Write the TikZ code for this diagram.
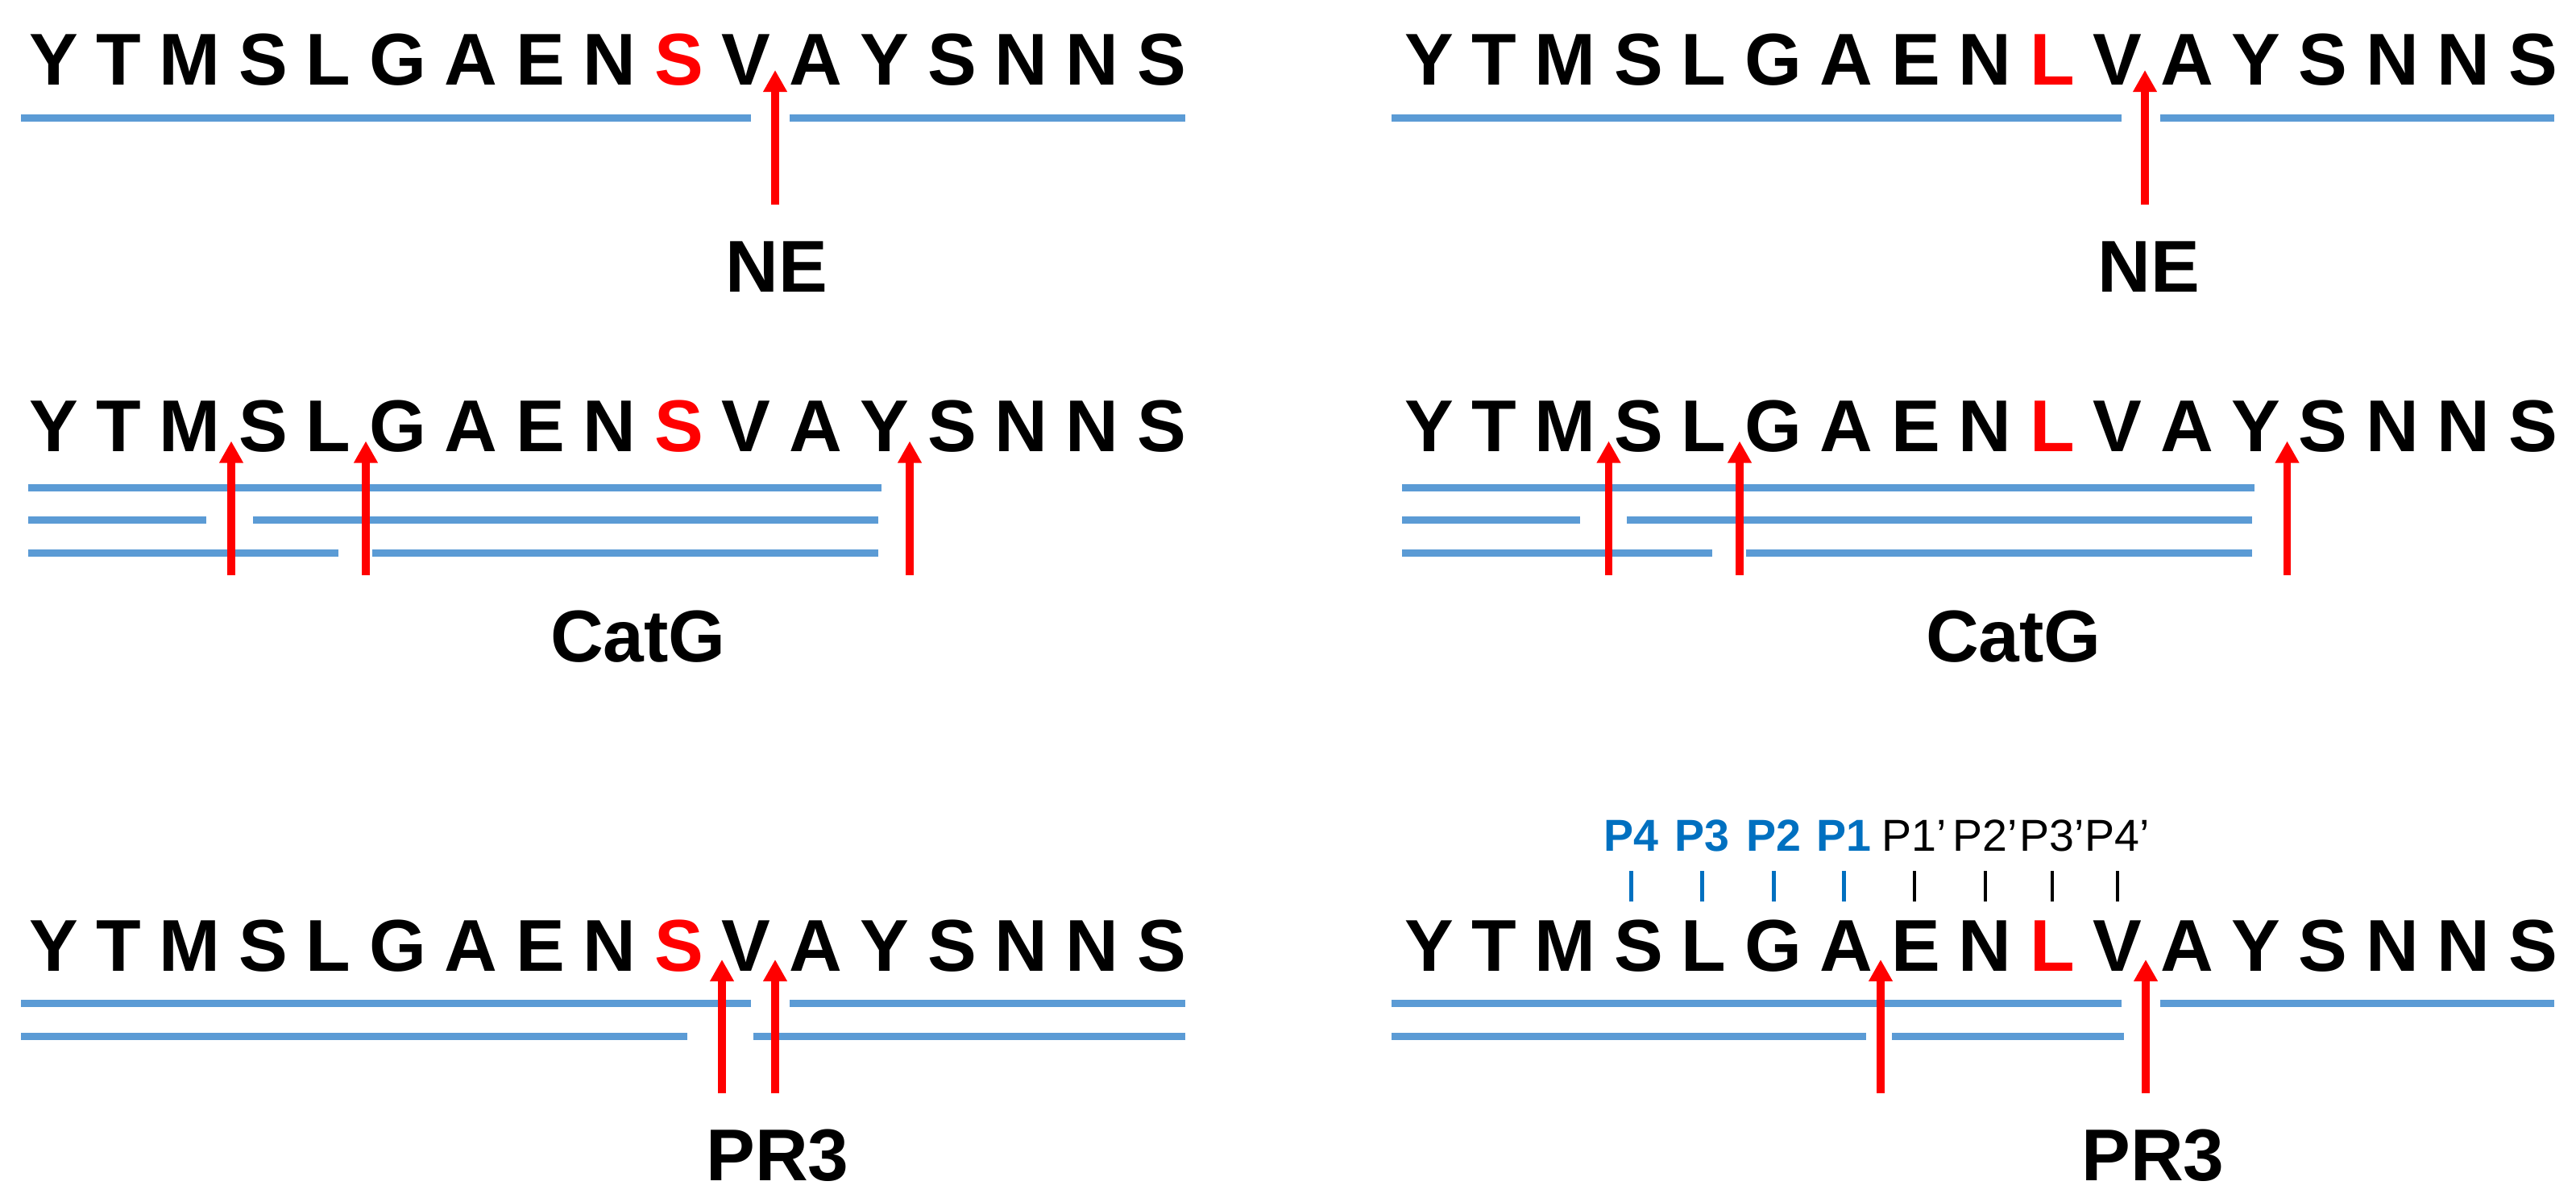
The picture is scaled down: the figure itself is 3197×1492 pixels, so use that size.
\documentclass[tikz,border=0pt]{standalone}
\usepackage{fontspec}
\setmainfont{Liberation Sans}
\usepackage{xcolor}
\usepackage{tikz}
\usetikzlibrary{arrows.meta}

\definecolor{lineblue}{RGB}{91,155,213}
\definecolor{siteblue}{RGB}{0,112,192}
\newcommand{\seqfont}{\fontsize{25.9pt}{31pt}\selectfont\bfseries\spaceskip=0.227cm\relax}
\newcommand{\sitefont}{\fontsize{15.8pt}{19pt}\selectfont}
\newcommand{\wtseq}{Y T M S L G A E N \textcolor{red}{S} V A Y S N N S}
\newcommand{\mutseq}{Y T M S L G A E N \textcolor{red}{L} V A Y S N N S}

\tikzset{
  seq/.style={font=\seqfont, anchor=base west, inner sep=0pt, outer sep=0pt},
  enz/.style={font=\seqfont, anchor=base, inner sep=0pt},
  site/.style={font=\sitefont, anchor=base, inner sep=0pt},
  pep/.style={draw=lineblue, line width=0.09cm},
  cut/.style={draw=red, line width=0.095cm, -{Triangle[length=0.27cm,width=0.28cm]}},
  sitetick/.style={line width=0.047cm}
}

\begin{document}
\begin{tikzpicture}[x=0.01cm,y=-0.01cm]
	\useasboundingbox (0,0) rectangle (3197,1492);

	\foreach \y/\r in {106/1,561/2,1205/3} {
		\node[seq] (wt\r) at (36,\y) {\wtseq};
		\node[seq] (mut\r) at (1743,\y) {\mutseq};
	}

	\draw[pep] (26,146.5) -- (932,146.5);
	\draw[pep] (980,146.5) -- (1471,146.5);
	\draw[cut] (962,254) -- (962,87);
	\node[enz] (ne-wt) at (964,363) {NE};

	\draw[pep] (1727,146.5) -- (2633,146.5);
	\draw[pep] (2681,146.5) -- (3170,146.5);
	\draw[cut] (2662,254) -- (2662,87);
	\node[enz] (ne-mut) at (2667,363) {NE};

	\draw[pep] (35,605.5) -- (1094,605.5);
	\draw[pep] (35,646) -- (256,646);
	\draw[pep] (314,646) -- (1090,646);
	\draw[pep] (35,686.5) -- (420,686.5);
	\draw[pep] (462,686.5) -- (1090,686.5);
	\foreach \x in {287,454,1129}
		\draw[cut] (\x,714) -- (\x,547.5);
	\node[enz] (catg-wt) at (792,822) {CatG};

	\draw[pep] (1740,605.5) -- (2798,605.5);
	\draw[pep] (1740,646) -- (1961,646);
	\draw[pep] (2019,646) -- (2795,646);
	\draw[pep] (1740,686.5) -- (2125,686.5);
	\draw[pep] (2167,686.5) -- (2795,686.5);
	\foreach \x in {1996.5,2159,2838.5}
		\draw[cut] (\x,714) -- (\x,547.5);
	\node[enz] (catg-mut) at (2499,822) {CatG};

	\draw[pep] (26,1245) -- (932,1245);
	\draw[pep] (980,1245) -- (1471,1245);
	\draw[pep] (26,1286) -- (852.5,1286);
	\draw[pep] (935,1286) -- (1471,1286);
	\draw[cut] (896,1357) -- (896,1191);
	\draw[cut] (962,1357) -- (962,1191);
	\node[enz] (pr3-wt) at (965,1465) {PR3};

	\draw[pep] (1727,1245) -- (2633,1245);
	\draw[pep] (2681,1245) -- (3170,1245);
	\draw[pep] (1727,1286) -- (2316,1286);
	\draw[pep] (2348,1286) -- (2636,1286);
	\draw[cut] (2334,1357) -- (2334,1191);
	\draw[cut] (2663,1357) -- (2663,1191);
	\node[enz] (pr3-mut) at (2672,1465) {PR3};

	\foreach \x/\t in {2024.5/4,2112.5/3,2201.5/2,2288.5/1} {
		\node[site, text=siteblue, font=\sitefont\bfseries] (p\t) at (\x,1056) {P\t};
		\draw[sitetick, siteblue] (\x,1081) -- (\x,1119);
	}
	\foreach \x/\t in {2376/1,2464/2,2547/3,2628/4} {
		\node[site] (q\t) at (\x,1056) {P\t’};
		\draw[sitetick] (\x,1081) -- (\x,1119);
	}
\end{tikzpicture}
\end{document}
